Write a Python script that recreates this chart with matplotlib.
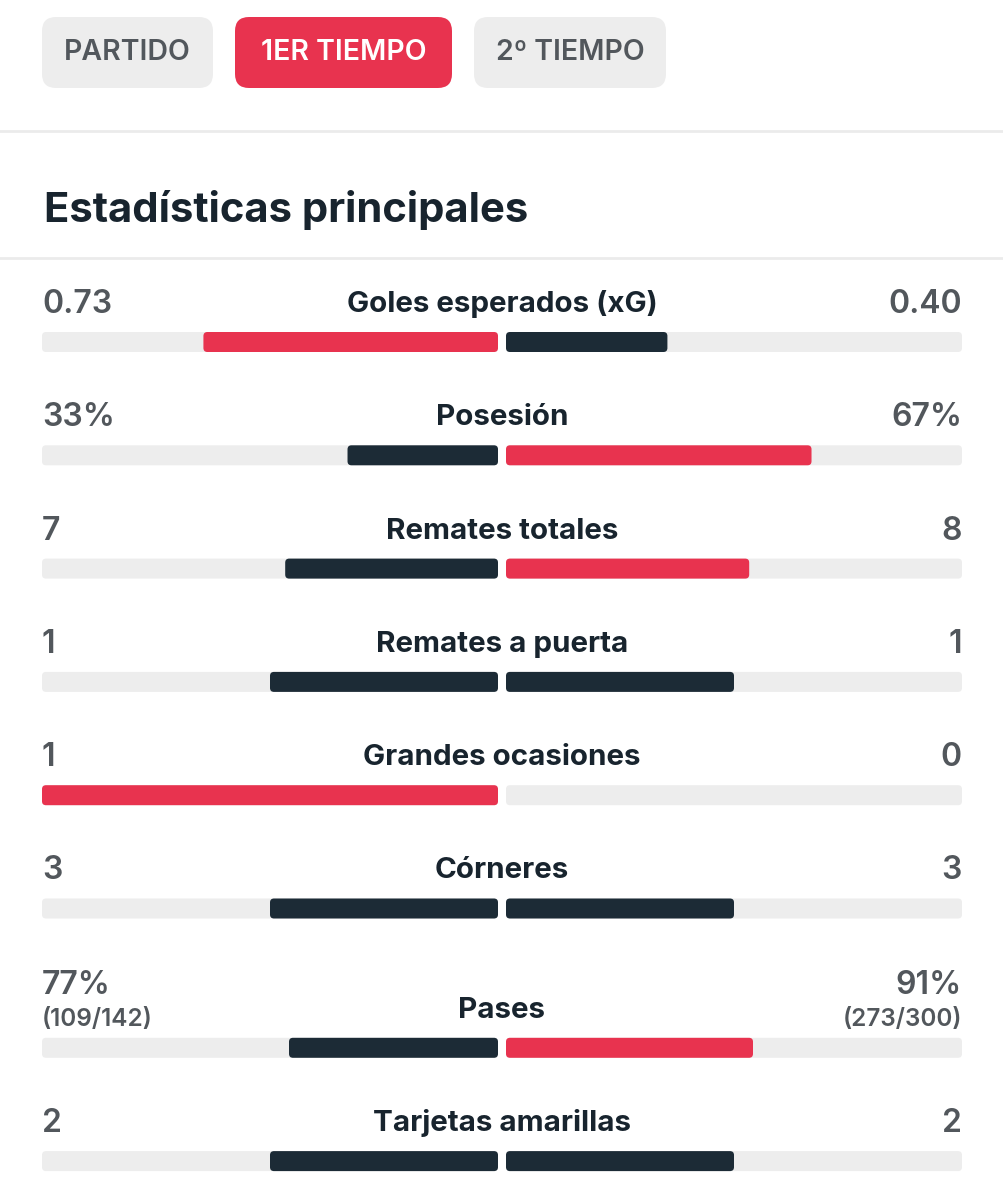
import matplotlib
matplotlib.use("Agg")
import matplotlib.pyplot as plt
from matplotlib.patches import FancyBboxPatch

# datos del partido (1er tiempo)
etiquetas = ["Goles esperados (xG)", "Posesión", "Remates totales", "Remates a puerta",
             "Grandes ocasiones", "Córneres", "Pases", "Tarjetas amarillas"]
local = [0.73, 33, 7, 1, 1, 3, 77, 2]
visita = [0.40, 67, 8, 1, 0, 3, 91, 2]
local_txt = ["0.73", "33%", "7", "1", "1", "3", "77%", "2"]
visita_txt = ["0.40", "67%", "8", "1", "0", "3", "91%", "2"]
local_sub = ["", "", "", "", "", "", "(109/142)", ""]
visita_sub = ["", "", "", "", "", "", "(273/300)", ""]
pestanas = ["PARTIDO", "1ER TIEMPO", "2º TIEMPO"]
activa = 1

ROJO = "#E8334F"
OSCURO = "#1C2B36"
PISTA = "#EDEDED"
GRIS_TXT = "#52575C"
OSCURO_TXT = "#18242E"
FUENTE = "Inter"

fig = plt.figure(figsize=(10.04, 12), dpi=100)
ax = fig.add_axes([0, 0, 1, 1])
ax.set_xlim(0, 1004)
ax.set_ylim(1200, 0)
ax.axis("off")


def caja(x0, y0, w, h, r, color):
    ax.add_patch(FancyBboxPatch((x0, y0), w, h,
                                boxstyle="round,pad=0,rounding_size=%g" % r,
                                fc=color, ec="none"))


# pestañas
tab_x = [42, 235, 474]
tab_w = [171, 217, 192]
for i, t in enumerate(pestanas):
    col = ROJO if i == activa else PISTA
    caja(tab_x[i], 17, tab_w[i], 71, 14, col)
    ax.text(tab_x[i] + tab_w[i] / 2, 60, t, ha="center", va="baseline",
            fontsize=20.5, fontfamily=FUENTE, fontweight="semibold",
            color="white" if i == activa else GRIS_TXT)

# separadores y titulo
ax.axhline(131, color="#EBEBEB", lw=2)
ax.axhline(258, color="#EBEBEB", lw=2)
ax.text(44, 222, "Estadísticas principales", ha="left", va="baseline",
        fontsize=30.1, fontfamily=FUENTE, fontweight="bold", color=OSCURO_TXT)

# filas
izq0, der0, ancho = 42, 506, 456
yc = 342
for i in range(len(etiquetas)):
    if local_sub[i]:
        yc += 26
    tot = local[i] + visita[i]
    fl = local[i] / tot if tot else 0
    fv = visita[i] / tot if tot else 0
    if local[i] > visita[i]:
        cl, cv = ROJO, OSCURO
    elif local[i] < visita[i]:
        cl, cv = OSCURO, ROJO
    else:
        cl, cv = OSCURO, OSCURO
    caja(izq0, yc - 10, ancho, 20, 4, PISTA)
    caja(der0, yc - 10, ancho, 20, 4, PISTA)
    if fl > 0:
        caja(izq0 + ancho * (1 - fl), yc - 10, ancho * fl, 20, 4, cl)
    if fv > 0:
        caja(der0, yc - 10, ancho * fv, 20, 4, cv)

    ax.text(502, yc - 30, etiquetas[i], ha="center", va="baseline",
            fontsize=21.3, fontfamily=FUENTE, fontweight="bold", color=OSCURO_TXT)
    yv = yc - 54 if local_sub[i] else yc - 29
    ax.text(42, yv, local_txt[i], ha="left", va="baseline",
            fontsize=23, fontfamily=FUENTE, fontweight="semibold", color=GRIS_TXT)
    ax.text(962, yv, visita_txt[i], ha="right", va="baseline",
            fontsize=23, fontfamily=FUENTE, fontweight="semibold", color=GRIS_TXT)
    if local_sub[i]:
        ax.text(42, yc - 22, local_sub[i], ha="left", va="baseline",
                fontsize=17.5, fontfamily=FUENTE, fontweight="semibold", color=GRIS_TXT)
        ax.text(962, yc - 22, visita_sub[i], ha="right", va="baseline",
                fontsize=17.5, fontfamily=FUENTE, fontweight="semibold", color=GRIS_TXT)
    yc += 113.3

fig.savefig("out.png", dpi=100, facecolor="white")
